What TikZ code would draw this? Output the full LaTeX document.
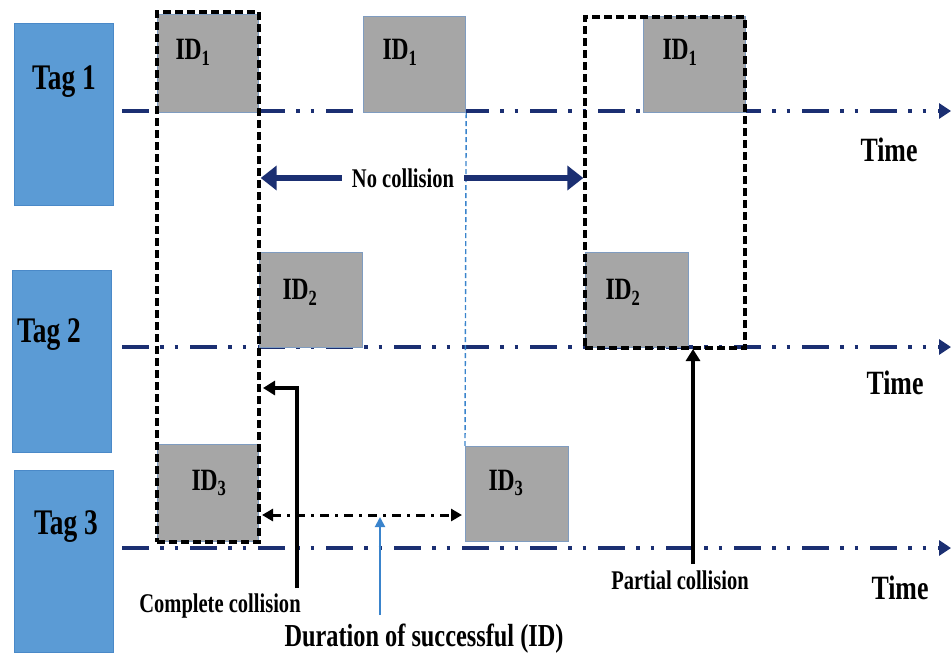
\documentclass[tikz,border=0pt]{standalone}
\usepackage{fontspec}
\setmainfont{Liberation Serif}
\newfontfamily\narrowfont[FakeStretch=0.76]{Liberation Serif}
\usetikzlibrary{arrows.meta,positioning}
\definecolor{tagblue}{HTML}{5B9BD5}
\definecolor{tagedge}{HTML}{4A89C8}
\definecolor{idgray}{HTML}{A6A6A6}
\definecolor{idedge}{HTML}{7F9CC0}
\definecolor{navy}{HTML}{1B2F72}
\definecolor{durblue}{HTML}{3A84CC}
\tikzset{
  tagbox/.style={
    rectangle,
    draw=tagedge,
    fill=tagblue,
    line width=1pt,
    minimum width=99pt,
    minimum height=182pt,
    inner sep=0pt
    },
  idbox/.style={
    rectangle,
    draw=idedge,
    fill=idgray,
    line width=1.2pt,
    minimum width=101pt,
    minimum height=96pt,
    inner sep=0pt,
    anchor=south west
    },
  collbox/.style={
    rectangle,
    draw=black,
    line width=3.4pt,
    dash pattern=on 8pt off 4pt,
    inner sep=0pt
    },
  tagtxt/.style={font=\narrowfont\bfseries\fontsize{36}{38}\selectfont, inner sep=0pt},
  idtxt/.style={font=\narrowfont\bfseries\fontsize{31}{33}\selectfont, inner sep=0pt},
  timetxt/.style={font=\narrowfont\bfseries\fontsize{34}{36}\selectfont, inner sep=0pt},
  lbltxt/.style={font=\narrowfont\bfseries\fontsize{27}{29}\selectfont, inner sep=0pt},
  timeaxis/.style={
    draw=navy,
    line width=4.5pt,
    dash pattern=on 27pt off 11pt on 3.5pt off 11pt on 3.5pt off 12pt,
    -{Triangle[length=12pt,width=15pt]}
    },
  navyarrow/.style={draw=navy, line width=6.5pt, -{Triangle[length=16pt,width=24pt]}},
  blackarrow/.style={draw=black, line width=4pt, -{Triangle[length=12pt,width=14pt]}},
  durarrow/.style={
    draw=black,
    line width=3pt,
    dash pattern=on 9pt off 6pt on 3pt off 6pt,
    {Triangle[length=11pt,width=12pt]}-{Triangle[length=11pt,width=12pt]}
    },
  bluearrow/.style={draw=durblue, line width=2pt, -{Triangle[length=10pt,width=10pt]}},
  succline/.style={draw=durblue, line width=1.4pt, dash pattern=on 5pt off 3pt}
}

\begin{document}
\begin{tikzpicture}[x=1pt, y=-1pt]
  \useasboundingbox (0,0) rectangle (952,654);

  % tags
  \node[tagbox] (tag1) at (63.5,114) {};
  \node[tagbox] (tag2) at (61.5,361.5) {};
  \node[tagbox] (tag3) at (63.5,561) {};
  \node[tagtxt] (tag1lbl) at (64,82) {Tag 1};
  \node[tagtxt] (tag2lbl) at (49,335) {Tag 2};
  \node[tagtxt] (tag3lbl) at (66,527) {Tag 3};

  % time axes
  \coordinate (ax1s) at (122,111);
  \coordinate (ax1e) at (951,111);
  \coordinate (ax2s) at (122,347);
  \coordinate (ax2e) at (951,347);
  \coordinate (ax3s) at (122,548);
  \coordinate (ax3e) at (951,548);
  \draw[timeaxis] (ax1s) -- (ax1e);
  \draw[timeaxis] (ax2s) -- (ax2e);
  \draw[timeaxis] (ax3s) -- (ax3e);
  \node[timetxt] (time1) at (889,150) {Time};
  \node[timetxt] (time2) at (895,383) {Time};
  \node[timetxt] (time3) at (900,588) {Time};

  % ID slots
  \node[idbox, minimum height=98pt] (a1) at (157,113) {};
  \node[idbox, minimum width=102pt] (a2) at (363,113) {};
  \node[idbox, minimum width=102pt] (a3) at (643,113) {};
  \node[idbox, minimum width=103pt, minimum height=95pt] (b1) at (259,348) {};
  \node[idbox, minimum width=103pt, minimum height=95pt] (b2) at (585,348) {};
  \node[idbox, minimum height=97pt] (c1) at (157,542) {};
  \node[idbox, minimum width=103pt, minimum height=95pt] (c2) at (465,542) {};

  \node[idtxt] (a1lbl) at (193,52) {ID\textsubscript{1}};
  \node[idtxt] (a2lbl) at (400,52) {ID\textsubscript{1}};
  \node[idtxt] (a3lbl) at (680,52) {ID\textsubscript{1}};
  \node[idtxt] (b1lbl) at (300,292) {ID\textsubscript{2}};
  \node[idtxt] (b2lbl) at (623,292) {ID\textsubscript{2}};
  \node[idtxt] (c1lbl) at (209,483) {ID\textsubscript{3}};
  \node[idtxt] (c2lbl) at (506,483) {ID\textsubscript{3}};

  % collision windows
  \node[collbox, minimum width=102pt, minimum height=530pt] (cc) at (208,277) {};
  \node[collbox, minimum width=160pt, minimum height=331pt] (pc) at (665,182.5) {};
  \draw[succline] (a2.south east) -- (c2.north west);

  % no collision
  \node[lbltxt, inner xsep=10pt] (nc) at (403,178) {No collision};
  \draw[navyarrow] (nc.west) -- (cc.east |- nc.west);
  \draw[navyarrow] (nc.east) -- (pc.west |- nc.east);

  % complete collision
  \node[lbltxt] (cclbl) at (220,606) {Complete collision};
  \coordinate (ccfoot) at (297,588);
  \coordinate (cctip) at (263,388);
  \draw[blackarrow] (ccfoot) |- (cctip);

  % successful duration
  \coordinate (durl) at (262,515);
  \coordinate (durr) at (462,515);
  \draw[durarrow] (durl) -- (durr);
  \node[font=\narrowfont\bfseries\fontsize{32}{34}\selectfont, inner sep=0pt] (durlbl) at (424,639) {Duration of successful (ID)};
  \coordinate (durfoot) at (380,615);
  \coordinate (durtip) at (380,517);
  \draw[bluearrow] (durfoot) -- (durtip);

  % partial collision
  \node[lbltxt] (pclbl) at (680,580) {Partial collision};
  \coordinate (pcfoot) at (693,564);
  \coordinate (pctip) at (693,349);
  \draw[blackarrow] (pcfoot) -- (pctip);
\end{tikzpicture}
\end{document}
